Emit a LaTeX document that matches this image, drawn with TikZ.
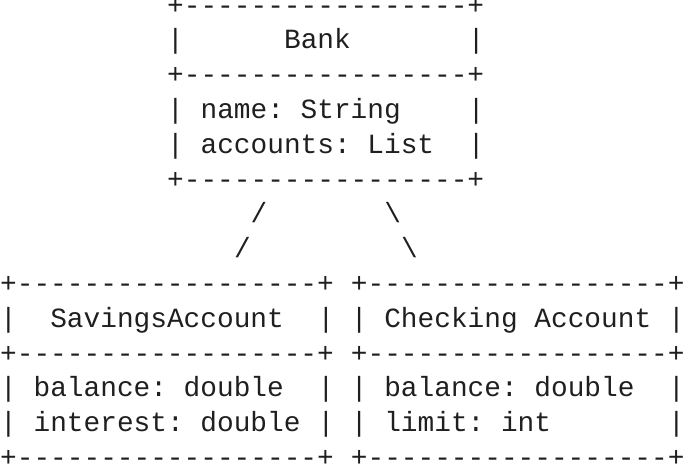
\documentclass[tikz,border=0pt]{standalone}
\usepackage{fontspec}
\setmonofont{Liberation Mono}
\begin{document}
\begin{tikzpicture}[x=1pt,y=1pt,
  t/.style={anchor=mid west,inner sep=0pt,font=\ttfamily\fontsize{27.8}{30}\selectfont,text=black!88}]
\useasboundingbox (0,0) rectangle (685,474);
\def\cw{16.7}
\def\row#1{474-12-34.8*#1}
% top box
\node[t] (a0) at ({10*\cw},{\row{0}}) {+-----------------+};
\node[t] (a1l) at ({10*\cw},{\row{1}}) {|};
\node[t] (a1) at ({17*\cw},{\row{1}}) {Bank};
\node[t] (a1r) at ({28*\cw},{\row{1}}) {|};
\node[t] (a2) at ({10*\cw},{\row{2}}) {+-----------------+};
\node[t] (a3l) at ({10*\cw},{\row{3}}) {|};
\node[t] (a3) at ({12*\cw},{\row{3}}) {name: String};
\node[t] (a3r) at ({28*\cw},{\row{3}}) {|};
\node[t] (a4l) at ({10*\cw},{\row{4}}) {|};
\node[t] (a4) at ({12*\cw},{\row{4}}) {accounts: List};
\node[t] (a4r) at ({28*\cw},{\row{4}}) {|};
\node[t] (a5) at ({10*\cw},{\row{5}}) {+-----------------+};
% links
\node[t] (s1) at ({15*\cw},{\row{6}}) {/};
\node[t] (b1) at ({23*\cw},{\row{6}}) {\textbackslash};
\node[t] (s2) at ({14*\cw},{\row{7}}) {/};
\node[t] (b2) at ({24*\cw},{\row{7}}) {\textbackslash};
% left box
\node[t] (l0) at (0,{\row{8}}) {+------------------+};
\node[t] (l1l) at (0,{\row{9}}) {|};
\node[t] (l1) at ({3*\cw},{\row{9}}) {SavingsAccount};
\node[t] (l1r) at ({19*\cw},{\row{9}}) {|};
\node[t] (l2) at (0,{\row{10}}) {+------------------+};
\node[t] (l3l) at (0,{\row{11}}) {|};
\node[t] (l3) at ({2*\cw},{\row{11}}) {balance: double};
\node[t] (l3r) at ({19*\cw},{\row{11}}) {|};
\node[t] (l4l) at (0,{\row{12}}) {|};
\node[t] (l4) at ({2*\cw},{\row{12}}) {interest: double};
\node[t] (l4r) at ({19*\cw},{\row{12}}) {|};
\node[t] (l5) at (0,{\row{13}}) {+------------------+};
% right box
\node[t] (r0) at ({21*\cw},{\row{8}}) {+------------------+};
\node[t] (r1l) at ({21*\cw},{\row{9}}) {|};
\node[t] (r1) at ({23*\cw},{\row{9}}) {Checking Account};
\node[t] (r1r) at ({40*\cw},{\row{9}}) {|};
\node[t] (r2) at ({21*\cw},{\row{10}}) {+------------------+};
\node[t] (r3l) at ({21*\cw},{\row{11}}) {|};
\node[t] (r3) at ({23*\cw},{\row{11}}) {balance: double};
\node[t] (r3r) at ({40*\cw},{\row{11}}) {|};
\node[t] (r4l) at ({21*\cw},{\row{12}}) {|};
\node[t] (r4) at ({23*\cw},{\row{12}}) {limit: int};
\node[t] (r4r) at ({40*\cw},{\row{12}}) {|};
\node[t] (r5) at ({21*\cw},{\row{13}}) {+------------------+};
\end{tikzpicture}
\end{document}
